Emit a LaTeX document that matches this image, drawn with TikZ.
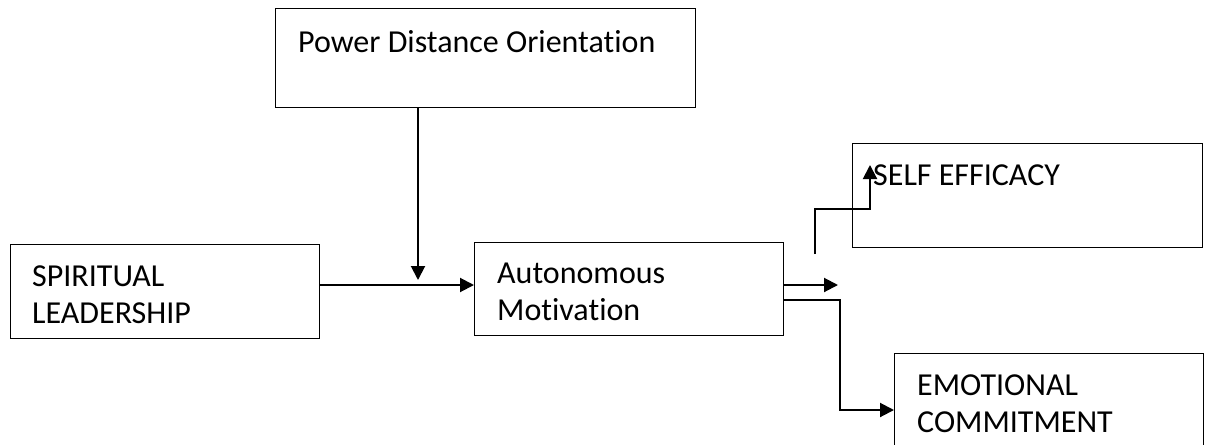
\documentclass[tikz,border=0pt]{standalone}
\usepackage{fontspec}
\setmainfont[Ligatures=NoCommon]{Carlito}
\usetikzlibrary{arrows.meta}
\begin{document}
\begin{tikzpicture}[x=1pt,y=-1pt,
  box/.style={draw,line width=1.4pt,minimum width=#1,inner sep=0pt,anchor=north west},
  lbl/.style={anchor=west,inner sep=0pt,align=left,font=\fontsize{32}{37}\selectfont},
  conn/.style={line width=2pt,-{Triangle[length=14pt,width=14pt]}},
  plain/.style={line width=2pt}]
\useasboundingbox (0,0) rectangle (1206,444);
\clip (0,0) rectangle (1206,444);
% boxes
\node[box=420pt,minimum height=99pt] (pdo) at (275,8) {};
\node[box=309pt,minimum height=94pt] (sl) at (10,244) {};
\node[box=309pt,minimum height=93pt] (am) at (474,242) {};
\node[box=350pt,minimum height=104pt] (se) at (852,143) {};
\node[box=309pt,minimum height=110pt] (ec) at (894,353) {};
% texts
\node[lbl] (pdot) at (298,42) {Power Distance Orientation};
\node[lbl] (slt) at (32,295) {SPIRITUAL\\LEADERSHIP};
\node[lbl] (amt) at (497,292) {Autonomous\\Motivation};
\node[lbl] (set) at (873,175) {SELF EFFICACY};
\node[lbl] (ect) at (917,404) {EMOTIONAL\\COMMITMENT};
% connectors
\coordinate (mod) at (418,280);
\coordinate (free) at (838,285);
\coordinate (sestart) at (815,254);
\coordinate (setip) at (870,165);
\draw[conn] (pdo.south -| mod) -- (mod);
\draw[conn] (322,285 -| sl.east) -- (am.west |- 0,285);
\draw[conn] (am.east |- free) -- (free);
\draw[conn] (am.east |- 0,300) -| (840,410) -- (ec.west |- 0,410);
\draw[conn] (sestart) |- (setip |- 0,209) -- (setip);
\end{tikzpicture}
\end{document}
